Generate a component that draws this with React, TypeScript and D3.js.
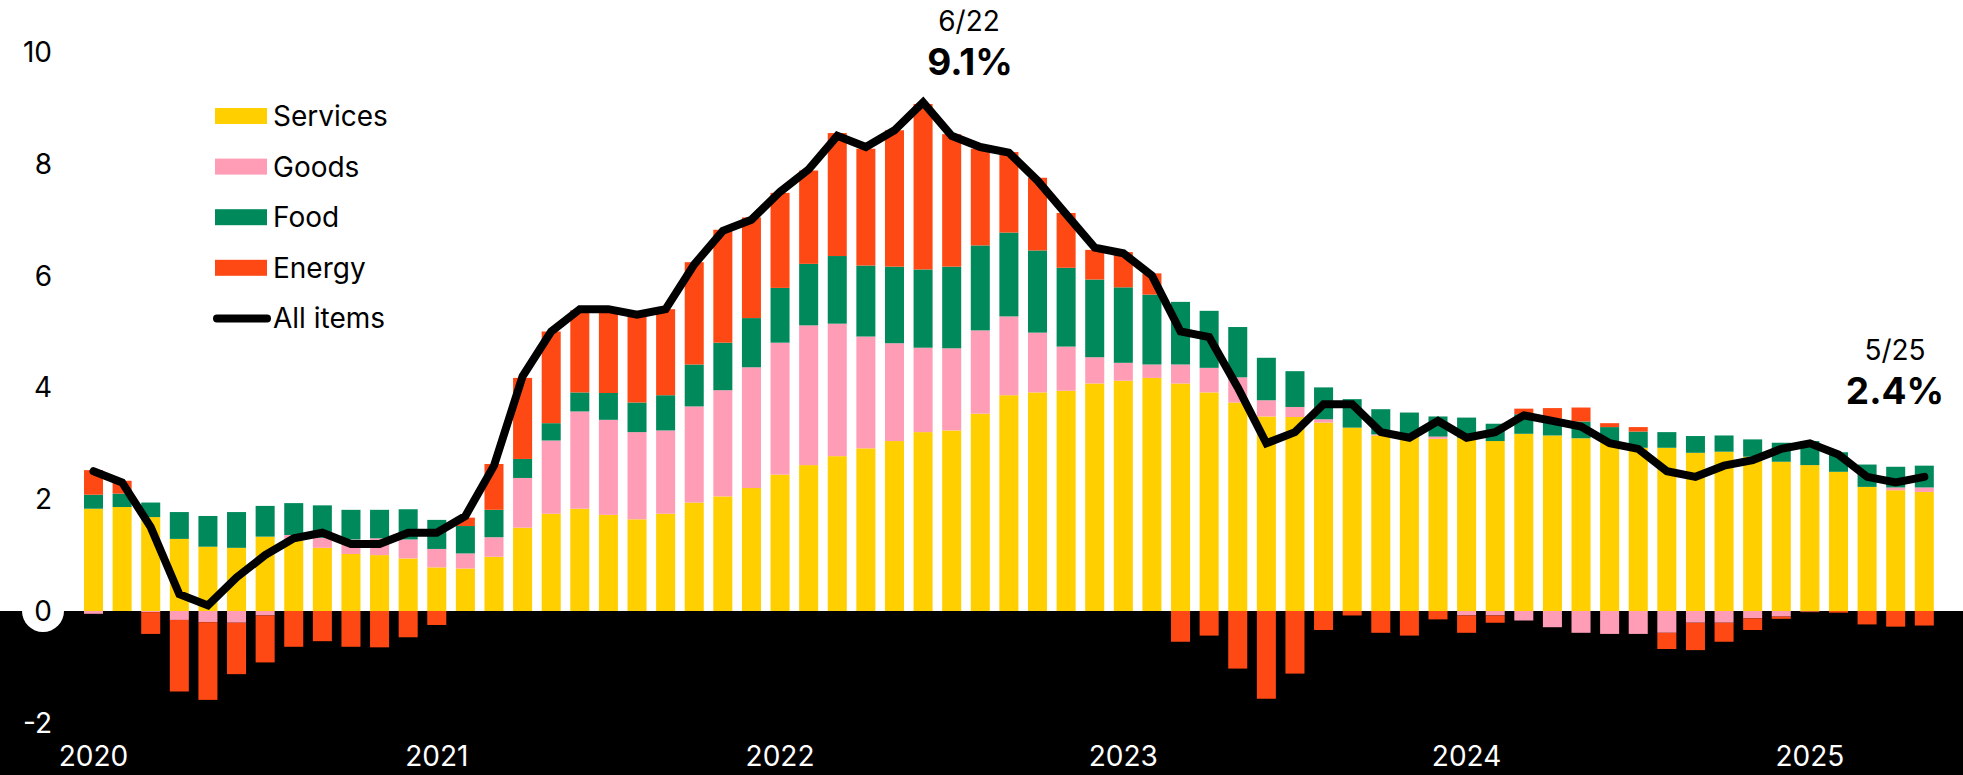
import React from "react";
import * as d3 from "d3";

const years = [2020, 2021, 2022, 2023, 2024, 2025];
const monthsInLastYear = 5;

const services = [1.83,1.86,1.68,1.29,1.15,1.13,1.33,1.26,1.13,1.02,1.00,0.94,
  0.78,0.76,0.97,1.49,1.74,1.83,1.72,1.64,1.74,1.94,2.05,2.20,
  2.44,2.61,2.77,2.91,3.04,3.20,3.23,3.53,3.86,3.91,3.94,4.07,
  4.12,4.17,4.07,3.91,3.73,3.48,3.47,3.37,3.28,3.14,3.12,3.08,
  3.10,3.04,3.17,3.14,3.09,3.02,2.92,2.92,2.83,2.85,2.76,2.67,
  2.61,2.49,2.22,2.16,2.13];
const goods = [-0.05,0.00,-0.02,-0.16,-0.20,-0.21,-0.08,0.10,0.18,0.26,0.30,0.34,
  0.33,0.27,0.35,0.89,1.31,1.74,1.70,1.56,1.49,1.72,1.90,2.16,
  2.36,2.50,2.37,2.00,1.75,1.51,1.47,1.49,1.41,1.07,0.79,0.47,
  0.32,0.24,0.34,0.44,0.45,0.29,0.18,0.06,0.00,0.02,0.00,0.04,
  -0.08,-0.08,-0.17,-0.29,-0.39,-0.41,-0.41,-0.39,-0.21,-0.21,-0.13,-0.10,
  -0.01,0.00,0.00,0.05,0.08];
const food = [0.25,0.24,0.26,0.48,0.55,0.64,0.55,0.57,0.58,0.53,0.51,0.54,
  0.52,0.49,0.49,0.34,0.31,0.34,0.48,0.53,0.63,0.75,0.85,0.88,
  0.98,1.10,1.21,1.27,1.37,1.40,1.46,1.52,1.50,1.47,1.41,1.39,
  1.35,1.25,1.12,1.02,0.90,0.76,0.64,0.57,0.51,0.45,0.43,0.36,
  0.36,0.31,0.35,0.30,0.30,0.27,0.29,0.28,0.30,0.29,0.31,0.34,
  0.43,0.35,0.40,0.37,0.39];
const energy = [0.44,0.23,-0.39,-1.28,-1.39,-0.92,-0.84,-0.64,-0.54,-0.64,-0.65,-0.47,
  -0.25,0.15,0.82,1.45,1.64,1.47,1.45,1.55,1.54,1.83,2.02,1.80,
  1.70,1.67,2.20,2.09,2.44,2.96,2.37,1.73,1.44,1.30,0.98,0.53,
  0.63,0.38,-0.55,-0.44,-1.03,-1.57,-1.12,-0.34,-0.08,-0.39,-0.44,-0.15,
  -0.31,-0.13,0.10,0.19,0.25,0.07,0.08,-0.29,-0.49,-0.34,-0.21,-0.04,
  -0.01,-0.03,-0.24,-0.28,-0.26];
const allItems = [2.5,2.3,1.5,0.3,0.1,0.6,1.0,1.3,1.4,1.2,1.2,1.4,
  1.4,1.7,2.6,4.2,5.0,5.4,5.4,5.3,5.4,6.2,6.8,7.0,
  7.5,7.9,8.5,8.3,8.6,9.1,8.5,8.3,8.2,7.7,7.1,6.5,
  6.4,6.0,5.0,4.9,4.0,3.0,3.2,3.7,3.7,3.2,3.1,3.4,
  3.1,3.2,3.5,3.4,3.3,3.0,2.9,2.5,2.4,2.6,2.7,2.9,
  3.0,2.8,2.4,2.3,2.4];

const yTicks = [-2, 0, 2, 4, 6, 8, 10];
const seriesKeys = ["services", "goods", "food", "energy"];
const seriesLabels = ["Services", "Goods", "Food", "Energy"];
const seriesColors = ["#FFCF00", "#FF9DB6", "#008A5C", "#FF4914"];
const peakLabel = ["6/22", "9.1%"];
const lastLabel = ["5/25", "2.4%"];

const W = 1963;
const H = 775;
const FONT = "Inter, 'Open Sans', sans-serif";

export default function App() {
  const months: string[] = [];
  years.forEach((yr, yi) => {
    const n = yi === years.length - 1 ? monthsInLastYear : 12;
    for (let m = 1; m <= n; m++) months.push(`${yr}-${String(m).padStart(2, "0")}`);
  });

  const rows = months.map((m, i) => ({
    month: m,
    services: services[i],
    goods: goods[i],
    food: food[i],
    energy: energy[i],
  }));

  const x = d3
    .scaleBand<string>()
    .domain(months)
    .range([79.2, 1938.6])
    .paddingInner(0.335)
    .paddingOuter(0.1675);
  const y = d3.scaleLinear().domain([0, 10]).range([611, 52]);

  const stack = d3
    .stack<any>()
    .keys(seriesKeys)
    .offset(d3.stackOffsetDiverging);
  const stacked = stack(rows);

  const cx = (m: string) => (x(m) as number) + x.bandwidth() / 2;
  const line = d3
    .line<number>()
    .x((_, i) => cx(months[i]))
    .y((d) => y(d));

  const legendX = 215;
  const legendY0 = 116;
  const legendStep = 50.6;

  return (
    <div style={{ position: "absolute", left: 0, top: 0 }}>
      <svg width={W} height={H} style={{ display: "block" }} fontFamily={FONT}>
        <rect x={0} y={0} width={W} height={H} fill="#fff" />
        <rect x={0} y={y(0)} width={W} height={H - y(0)} fill="#000" />

        {stacked.map((s, si) => (
          <g key={s.key} fill={seriesColors[si]}>
            {s.map((d, i) => {
              const top = y(Math.max(d[0], d[1]));
              const bot = y(Math.min(d[0], d[1]));
              if (bot - top <= 0.01) return null;
              return (
                <rect
                  key={i}
                  x={x(months[i])}
                  y={top}
                  width={x.bandwidth()}
                  height={bot - top}
                />
              );
            })}
          </g>
        ))}

        <path
          d={line(allItems) || ""}
          fill="none"
          stroke="#000"
          strokeWidth={8}
          strokeLinejoin="miter"
          strokeLinecap="round"
        />

        {yTicks.map((t) => (
          <g key={t}>
            {t === 0 && <circle cx={43} cy={y(0)} r={21} fill="#fff" />}
            <text
              x={52}
              y={y(t) + 10}
              textAnchor="end"
              fontSize={28}
              fill={t < 0 ? "#fff" : "#000"}
            >
              {t}
            </text>
          </g>
        ))}

        {years.map((yr) => (
          <text
            key={yr}
            x={cx(`${yr}-01`)}
            y={766}
            textAnchor="middle"
            fontSize={28}
            fill="#fff"
          >
            {yr}
          </text>
        ))}

        {seriesLabels.map((lab, i) => (
          <g key={lab}>
            <rect
              x={legendX}
              y={legendY0 + i * legendStep - 8}
              width={52}
              height={16}
              fill={seriesColors[i]}
            />
            <text x={273} y={legendY0 + i * legendStep + 10} fontSize={28} fill="#000">
              {lab}
            </text>
          </g>
        ))}
        <line
          x1={legendX + 2}
          x2={legendX + 52}
          y1={legendY0 + 4 * legendStep}
          y2={legendY0 + 4 * legendStep}
          stroke="#000"
          strokeWidth={8}
          strokeLinecap="round"
        />
        <text x={273} y={legendY0 + 4 * legendStep + 10} fontSize={28} fill="#000">
          All items
        </text>

        <text x={969} y={31} textAnchor="middle" fontSize={28} fill="#000">
          {peakLabel[0]}
        </text>
        <text x={970} y={75} textAnchor="middle" fontSize={37} fontWeight={700} fill="#000">
          {peakLabel[1]}
        </text>
        <text x={1895} y={360} textAnchor="middle" fontSize={28} fill="#000">
          {lastLabel[0]}
        </text>
        <text x={1895} y={404} textAnchor="middle" fontSize={37} fontWeight={700} fill="#000">
          {lastLabel[1]}
        </text>
      </svg>
    </div>
  );
}
